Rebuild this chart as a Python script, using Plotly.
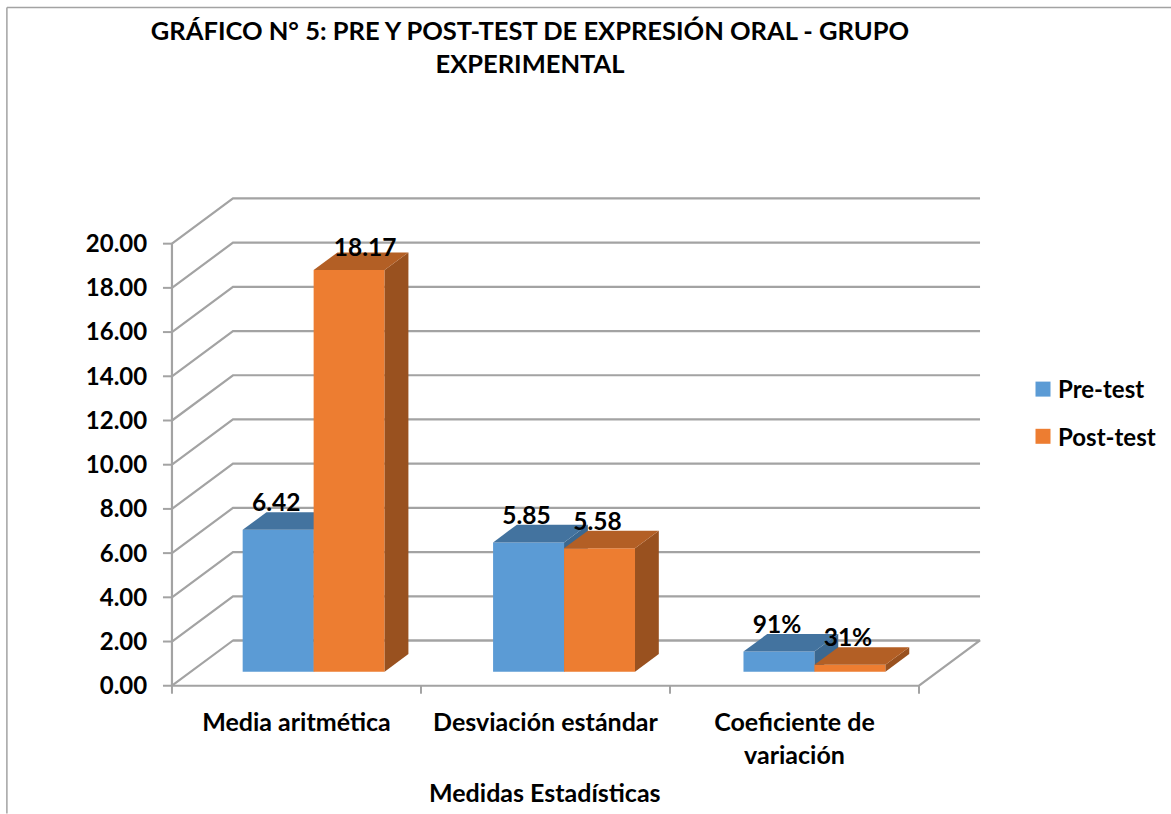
import plotly.graph_objects as go

# ---- data ----
categories = ["Media aritmética", "Desviación estándar", "Coeficiente de<br>variación"]
pre_test = [6.42, 5.85, 0.91]
post_test = [18.17, 5.58, 0.31]
is_percent = [False, False, True]
y_ticks = [0, 2, 4, 6, 8, 10, 12, 14, 16, 18, 20]
series_names = ["Pre-test", "Post-test"]

# ---- styling / projection ----
FONT = "Lato, Carlito, Calibri, sans-serif"
GRID = "#A3A3A3"
FRONT = ["#5B9BD5", "#ED7D31"]
TOP = ["#43739F", "#B35F25"]
SIDE = ["#3B6890", "#99511F"]

W, H = 1171, 814
X0_PX, Y0_PX = 172.0, 686.0      # pixel of x=0, y=0
X_UNIT, Y_UNIT = 248.9, 22.13    # px per category, px per value unit
DEPTH_X = 61.0 / X_UNIT          # wall depth in axis units
DEPTH_Y = 45.3 / Y_UNIT
D_FRONT, D_BACK = 0.31, 0.70     # bar depth, fraction of the wall depth
BAR_START, BAR_W, BAR_PITCH = 0.208, 0.285, 1.0056
X_PAD_L, X_PAD_R, Y_PAD_B, Y_PAD_T = 0.04, 0.02, 0.6, 0.2
N = len(categories)
YMAX = y_ticks[-1]


def proj(x, y, d):
    return x + d * DEPTH_X, y + d * DEPTH_Y


def poly(points, color):
    xs, ys = zip(*[proj(*p) for p in points + points[:1]])
    return go.Scatter(x=xs, y=ys, mode="lines", fill="toself", fillcolor=color,
                      line=dict(width=0, color=color), hoverinfo="skip", showlegend=False)


def seg(points, width=2.2):
    xs, ys = zip(*[proj(*p) for p in points])
    return go.Scatter(x=xs, y=ys, mode="lines", line=dict(color=GRID, width=width),
                      hoverinfo="skip", showlegend=False)


fig = go.Figure()

# walls and floor
for v in y_ticks:
    fig.add_trace(seg([(0, v, 0), (0, v, 1), (N, v, 1)]))
    fig.add_trace(go.Scatter(x=[-9 / X_UNIT, 0], y=[v, v], mode="lines",
                             line=dict(color=GRID, width=2), hoverinfo="skip", showlegend=False))
fig.add_trace(seg([(0, 0, 0), (0, YMAX, 0)]))
fig.add_trace(seg([(0, 0, 0), (N, 0, 0), (N, 0, 1), (0, 0, 1)]))
for i in range(N + 1):
    fig.add_trace(go.Scatter(x=[i, i], y=[0, -8 / Y_UNIT], mode="lines",
                             line=dict(color=GRID, width=2), hoverinfo="skip", showlegend=False))

# 3-D bars
label_x, label_y, label_text = [], [], []
LABEL_UP_PX = 25.0
for i in range(N):
    for s, vals in enumerate([pre_test, post_test]):
        v = vals[i]
        x0 = i * BAR_PITCH + BAR_START + s * BAR_W
        x1 = x0 + BAR_W
        fig.add_trace(poly([(x0, 0, D_FRONT), (x1, 0, D_FRONT), (x1, v, D_FRONT), (x0, v, D_FRONT)], FRONT[s]))
        fig.add_trace(poly([(x1, 0, D_FRONT), (x1, 0, D_BACK), (x1, v, D_BACK), (x1, v, D_FRONT)], SIDE[s]))
        fig.add_trace(poly([(x0, v, D_FRONT), (x1, v, D_FRONT), (x1, v, D_BACK), (x0, v, D_BACK)], TOP[s]))
        cx, cy = proj((x0 + x1) / 2, v, D_FRONT)
        up, right = LABEL_UP_PX, -2.0
        if v > YMAX * 0.8:   # tall bar: Excel nudged this label onto the bar top
            up, right = 20.0, 16.0
        label_x.append(cx + right / X_UNIT)
        label_y.append(cy + up / Y_UNIT)
        label_text.append(f"{v:.0%}" if is_percent[i] else f"{v:.2f}")

fig.add_trace(go.Scatter(x=label_x, y=label_y, text=label_text, mode="text",
                         textposition="middle center", hoverinfo="skip", showlegend=False,
                         textfont=dict(family=FONT, size=24.5, color="black", weight=700)))

# legend keys
for s, name in enumerate(series_names):
    fig.add_trace(go.Scatter(x=[None], y=[None], mode="markers", name=name, legendgroup=name,
                             marker=dict(symbol="square", size=15, color=FRONT[s])))

x_lo, x_hi = -X_PAD_L, N + DEPTH_X + X_PAD_R
y_lo, y_hi = -Y_PAD_B, YMAX + DEPTH_Y + Y_PAD_T
m_l = X0_PX + x_lo * X_UNIT
m_r = W - (X0_PX + x_hi * X_UNIT)
m_t = Y0_PX - y_hi * Y_UNIT
m_b = H - (Y0_PX - y_lo * Y_UNIT)
plot_w, plot_h = W - m_l - m_r, H - m_t - m_b


def paper_x(px):
    return (px - m_l) / plot_w


def paper_y(py):
    return (H - m_b - py) / plot_h


fig.update_layout(
    width=W, height=H, autosize=False,
    margin=dict(l=m_l, r=m_r, t=m_t, b=m_b, autoexpand=False, pad=0),
    paper_bgcolor="white", plot_bgcolor="white",
    font=dict(family=FONT, color="black", size=22, weight=700),
    title=dict(text="GRÁFICO N° 5: PRE Y POST-TEST DE EXPRESIÓN ORAL - GRUPO<br>EXPERIMENTAL",
               x=530 / W, xanchor="center", xref="container", y=1 - 40 / H, yanchor="top", yref="container",
               font=dict(family=FONT, size=25.5, color="black", weight=700)),
    xaxis=dict(range=[x_lo, x_hi], tickvals=[i + 0.5 for i in range(N)], ticktext=categories,
               showgrid=False, zeroline=False, showline=False,
               ticks="outside", ticklen=1, tickcolor="rgba(0,0,0,0)",
               tickfont=dict(family=FONT, size=25, color="black", weight=700)),
    yaxis=dict(range=[y_lo, y_hi], tickvals=y_ticks, tickformat=".2f",
               showgrid=False, zeroline=False, showline=False,
               ticks="outside", ticklen=9, tickcolor="rgba(0,0,0,0)",
               tickfont=dict(family=FONT, size=24, color="black", weight=700)),
    legend=dict(x=1018 / W, xref="container", xanchor="left", y=1 - 367 / H, yref="container", yanchor="top",
                tracegroupgap=13, traceorder="grouped", bgcolor="rgba(0,0,0,0)",
                font=dict(family=FONT, size=24, color="black", weight=700)),
    annotations=[
        dict(text="Medidas Estadísticas", xref="paper", yref="paper", showarrow=False,
             x=paper_x(545), y=paper_y(792), xanchor="center", yanchor="middle",
             font=dict(family=FONT, size=25, color="black", weight=700)),
    ],
    shapes=[
        dict(type="line", xref="paper", yref="paper", layer="below",
             x0=paper_x(7), x1=paper_x(7), y0=paper_y(814), y1=paper_y(7),
             line=dict(color=GRID, width=1.5)),
        dict(type="line", xref="paper", yref="paper", layer="below",
             x0=paper_x(7), x1=paper_x(1171), y0=paper_y(7), y1=paper_y(7),
             line=dict(color=GRID, width=1.5)),
    ],
)

fig.write_html("out.html", config={"displayModeBar": False},
               post_script="document.body.style.margin='0';document.body.style.overflow='hidden';"
                           "document.querySelectorAll('.legendsymbols').forEach(function(g){"
                           "g.setAttribute('transform','translate(5,0)');});")
